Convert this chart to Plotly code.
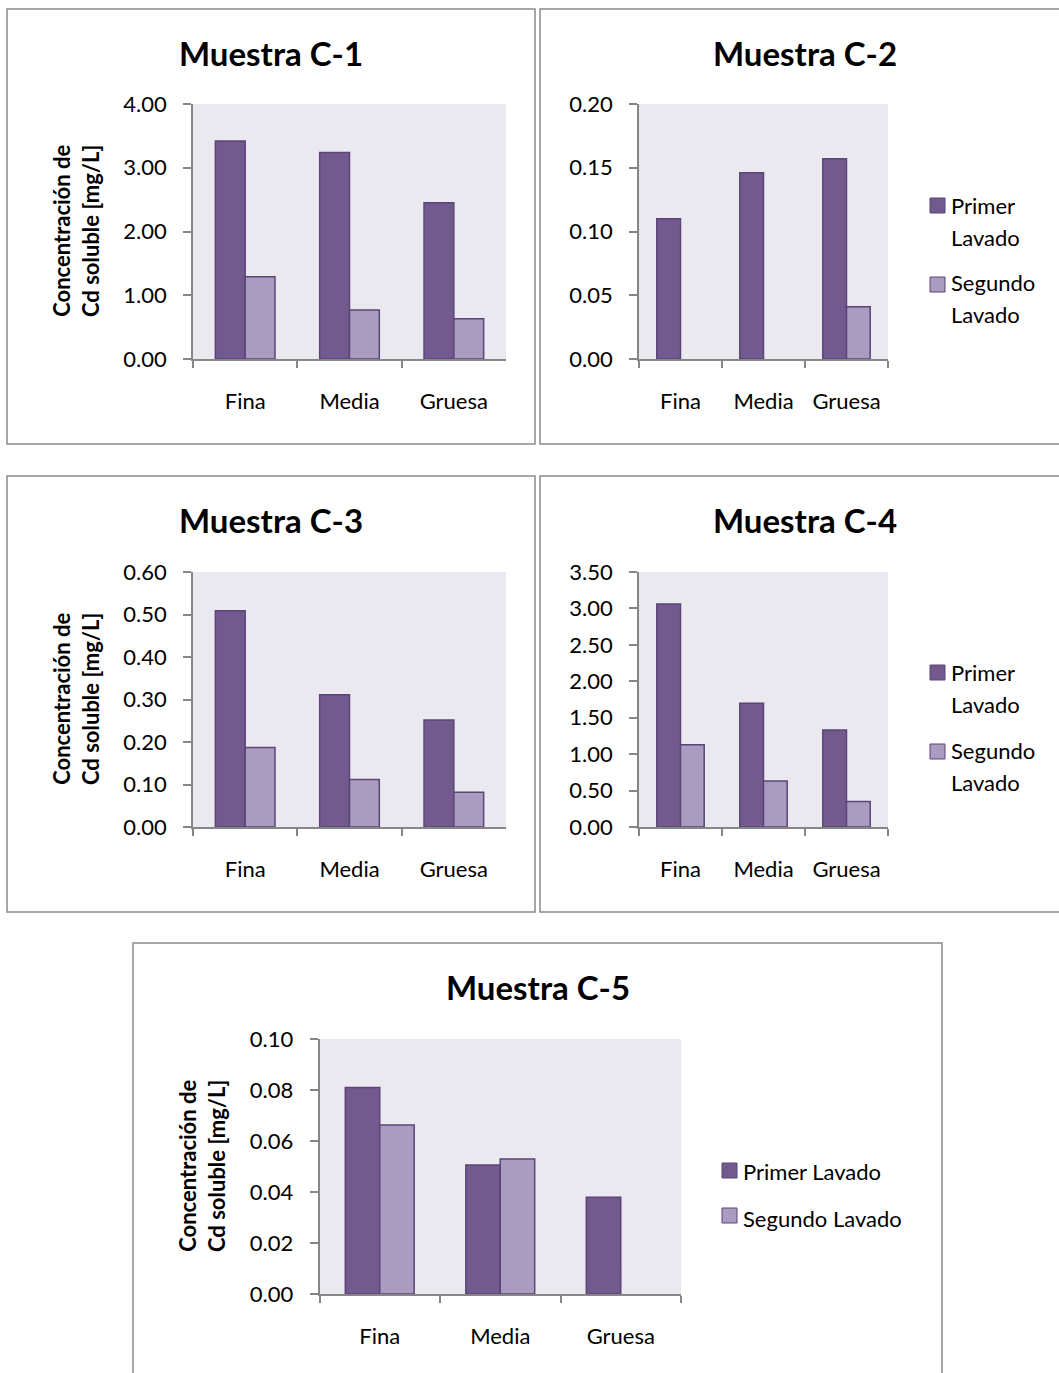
import plotly.graph_objects as go

# Concentración de Cd soluble por fracción granulométrica y lavado
categorias = ["Fina", "Media", "Gruesa"]

c1_primer = [3.42, 3.24, 2.45]
c1_segundo = [1.29, 0.77, 0.63]

c2_primer = [0.110, 0.146, 0.157]
c2_segundo = [None, None, 0.041]

c3_primer = [0.509, 0.311, 0.252]
c3_segundo = [0.187, 0.112, 0.082]

c4_primer = [3.06, 1.70, 1.33]
c4_segundo = [1.13, 0.63, 0.35]

c5_primer = [0.081, 0.0506, 0.0379]
c5_segundo = [0.0663, 0.0529, None]

titulos = ["Muestra C-1", "Muestra C-2", "Muestra C-3", "Muestra C-4", "Muestra C-5"]
serie_1 = "Primer Lavado"
serie_2 = "Segundo Lavado"
titulo_y = "Concentración de<br>Cd soluble [mg/L]"

W, H = 1059, 1373
FONT = "Lato"
C_PRIMER = "#725A8F"
C_SEGUNDO = "#A99CC0"
C_BORDE = "#5B4577"
C_EJE = "#868686"
C_FONDO = "#EBE9F0"


def fx(x):
    return x / W


def fy(y):
    return 1 - y / H


paneles = [
    # (primer, segundo, x-dominio px, y-dominio px, rango, paso)
    (c1_primer, c1_segundo, (193, 506), (104, 359), 4.0, 1.0),
    (c2_primer, c2_segundo, (639, 888), (104, 359), 0.20, 0.05),
    (c3_primer, c3_segundo, (193, 506), (572, 827), 0.60, 0.10),
    (c4_primer, c4_segundo, (639, 888), (572, 827), 3.5, 0.5),
    (c5_primer, c5_segundo, (319.5, 681), (1039, 1294), 0.10, 0.02),
]

fig = go.Figure()
layout = dict(
    width=W, height=H,
    margin=dict(l=0, r=0, t=0, b=0, autoexpand=False),
    paper_bgcolor="white",
    font=dict(family=FONT, size=22, color="black"),
    barmode="group", bargap=1.5 / 3.5, bargroupgap=0,
    showlegend=False,
)

for i, (prim, seg, xd, yd, rmax, paso) in enumerate(paneles):
    n = "" if i == 0 else str(i + 1)
    fig.add_trace(go.Bar(
        x=categorias, y=prim, name=serie_1, xaxis="x" + n, yaxis="y" + n,
        marker=dict(color=C_PRIMER, line=dict(color=C_BORDE, width=1.5)),
    ))
    fig.add_trace(go.Bar(
        x=categorias, y=seg, name=serie_2, xaxis="x" + n, yaxis="y" + n,
        marker=dict(color=C_SEGUNDO, line=dict(color=C_BORDE, width=1.5)),
    ))
    layout["xaxis" + n] = dict(
        domain=[fx(xd[0]), fx(xd[1])], anchor="y" + n, type="category",
        showline=True, linecolor=C_EJE, linewidth=1.5,
        ticks="outside", tickson="boundaries", ticklen=7, tickwidth=1.5, tickcolor=C_EJE,
        ticklabelstandoff=22, showgrid=False, zeroline=False, fixedrange=True,
    )
    layout["yaxis" + n] = dict(
        domain=[fy(yd[1]), fy(yd[0])], anchor="x" + n,
        range=[0, rmax], dtick=paso, tick0=0, tickformat=".2f",
        showline=True, linecolor=C_EJE, linewidth=1.5,
        ticks="outside", ticklen=8, tickwidth=1.5, tickcolor=C_EJE,
        ticklabelstandoff=12, showgrid=False, zeroline=False, fixedrange=True,
    )

fig.update_layout(**layout)

# Fondo de las áreas de trazado
for i, (_, _, xd, yd, _, _) in enumerate(paneles):
    fig.add_shape(type="rect", xref="paper", yref="paper", layer="below",
                  x0=fx(xd[0]), x1=fx(xd[1]), y0=fy(yd[1]), y1=fy(yd[0]),
                  fillcolor=C_FONDO, line=dict(width=0))

# Marcos de cada gráfico
marcos = [(7, 535, 9, 444), (540, 1070, 9, 444), (7, 535, 476, 912),
          (540, 1070, 476, 912), (133, 942, 943, 1390)]
for x0, x1, y0, y1 in marcos:
    fig.add_shape(type="rect", xref="paper", yref="paper",
                  x0=fx(x0), x1=fx(x1), y0=fy(y1), y1=fy(y0),
                  line=dict(color="#8A8A8A", width=1.5), fillcolor="rgba(0,0,0,0)")

# Títulos
centros_titulo = [(271, 53), (805, 53), (271, 520), (805, 520), (538, 987)]
for t, (cx, cy) in zip(titulos, centros_titulo):
    fig.add_annotation(text=f"<b>{t}</b>", xref="paper", yref="paper",
                       x=fx(cx), y=fy(cy), xanchor="center", yanchor="middle",
                       showarrow=False, font=dict(size=33, family=FONT, color="black"))

# Títulos del eje vertical
for cx, cy in [(76, 231), (76, 699), (202, 1166)]:
    fig.add_annotation(text=f"<b>{titulo_y}</b>", xref="paper", yref="paper",
                       x=fx(cx), y=fy(cy), xanchor="center", yanchor="middle",
                       textangle=-90, showarrow=False,
                       font=dict(size=22, family=FONT, color="black"))


def cuadro(x, y, color):
    fig.add_shape(type="rect", xref="paper", yref="paper",
                  x0=fx(x), x1=fx(x + 15), y0=fy(y + 15), y1=fy(y),
                  fillcolor=color, line=dict(color=C_BORDE, width=1))


def texto(s, x, y):
    fig.add_annotation(text=s, xref="paper", yref="paper", x=fx(x), y=fy(y),
                       xanchor="left", yanchor="middle", showarrow=False,
                       font=dict(size=22, family=FONT, color="black"))


# Leyendas de C-2 y C-4 (texto en dos líneas)
for dy in (0, 467):
    p1, p2 = serie_1.split(" ")
    s1, s2 = serie_2.split(" ")
    cuadro(930, 198 + dy, C_PRIMER)
    texto(p1, 949, 205 + dy)
    texto(p2, 949, 237 + dy)
    cuadro(930, 277 + dy, C_SEGUNDO)
    texto(s1, 949, 283 + dy)
    texto(s2, 949, 315 + dy)

# Leyenda de C-5
cuadro(722, 1163, C_PRIMER)
texto(serie_1, 741, 1171)
cuadro(722, 1208, C_SEGUNDO)
texto(serie_2, 741, 1218)

fig.write_html("out.html")
